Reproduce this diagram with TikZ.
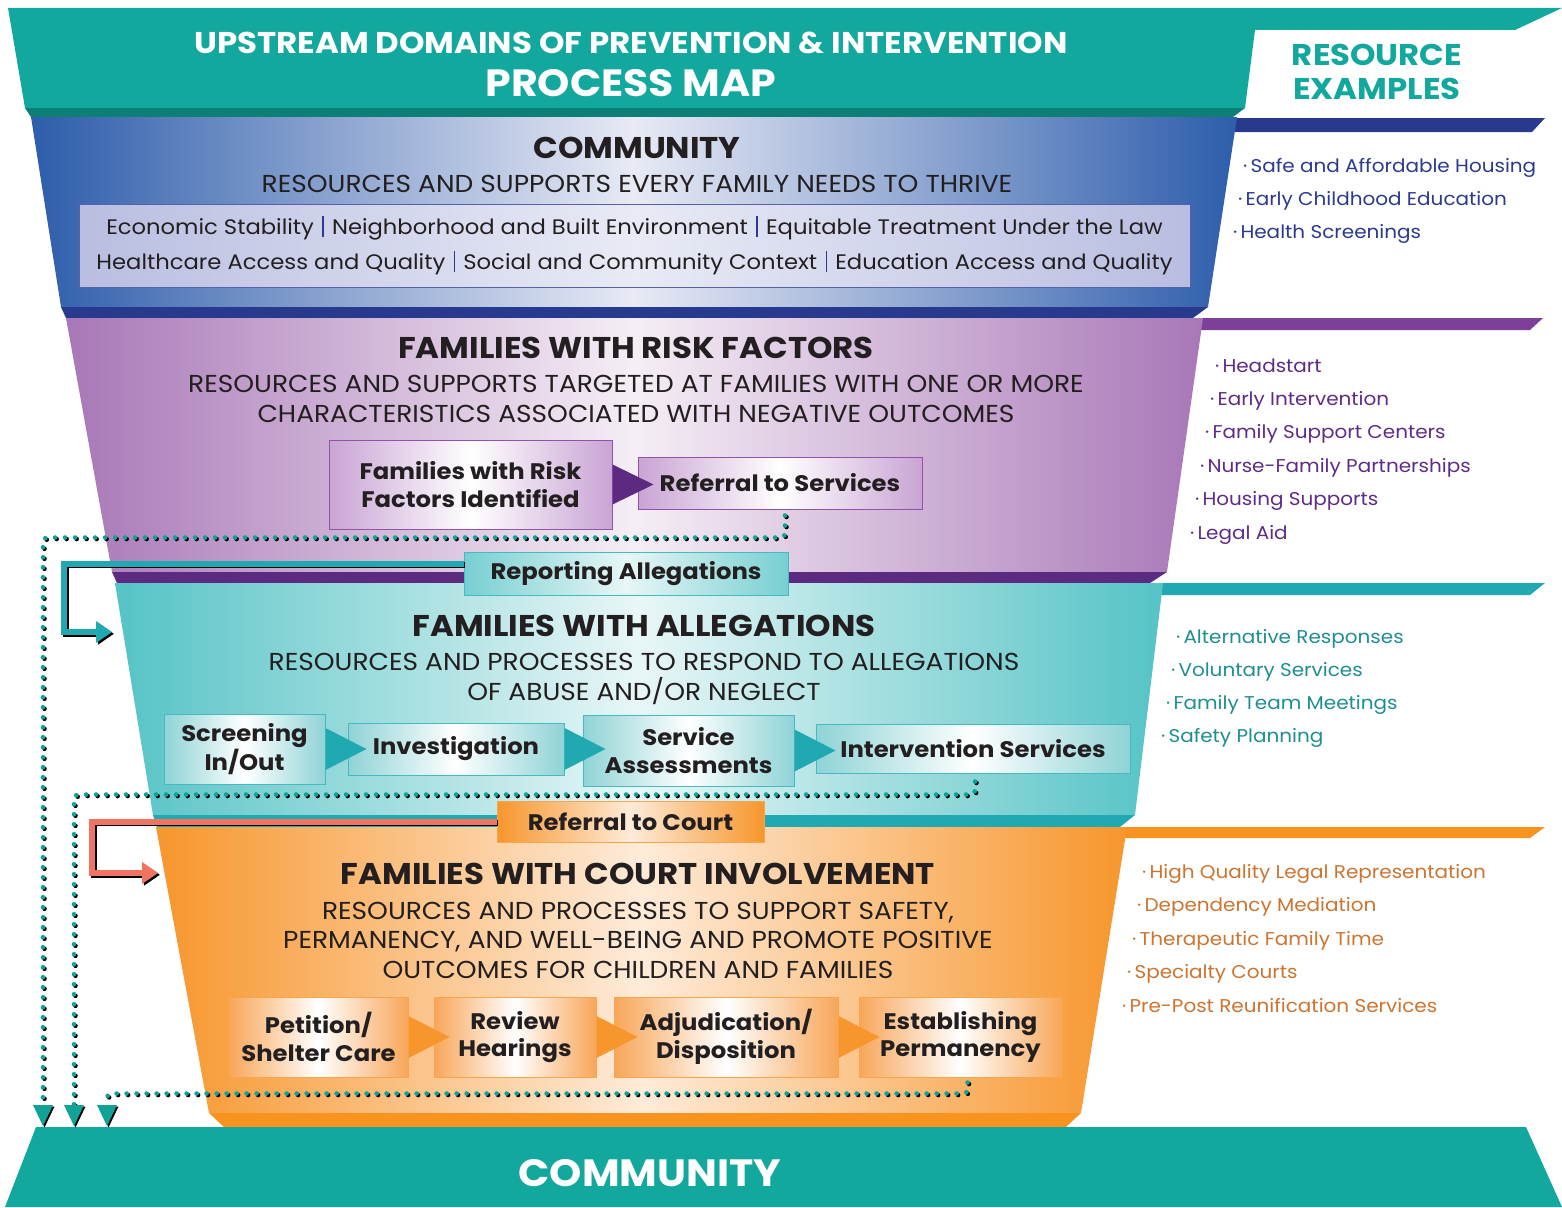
\documentclass[tikz,border=0pt]{standalone}
\usepackage{fontspec}
\setmainfont{Poppins}[FakeStretch=1.08]
\usetikzlibrary{arrows.meta,positioning,calc}

% band colours
\definecolor{ink}{HTML}{231F20}
\definecolor{mapTeal}{HTML}{13A89E}
\definecolor{mapTealDk}{HTML}{0E7F76}
\definecolor{comBlue}{HTML}{2D5DAB}
\definecolor{comBlueLt}{HTML}{E8EAF5}
\definecolor{comBlueDk}{HTML}{283A8E}
\definecolor{riskPurple}{HTML}{A877B7}
\definecolor{riskPurpleLt}{HTML}{F5EEF5}
\definecolor{riskPurpleDk}{HTML}{5C2A80}
\definecolor{riskPurpleBar}{HTML}{7E3F98}
\definecolor{allegTeal}{HTML}{55C3C6}
\definecolor{allegTealLt}{HTML}{E8F6F6}
\definecolor{allegTealDk}{HTML}{21A9B1}
\definecolor{courtOrange}{HTML}{F7962C}
\definecolor{courtOrangeLt}{HTML}{FEEBD9}
\definecolor{courtOrangeDk}{HTML}{F7931E}
% boxes and connectors
\definecolor{boxLav}{HTML}{B9BEE1}
\definecolor{boxLavLn}{HTML}{5961A9}
\definecolor{riskBox}{HTML}{C9A4D4}
\definecolor{riskBoxLn}{HTML}{9450AD}
\definecolor{allegBox}{HTML}{8FD3D6}
\definecolor{allegBoxLn}{HTML}{45BAC0}
\definecolor{courtBox}{HTML}{F8A659}
\definecolor{courtBoxLn}{HTML}{F9A54E}
\definecolor{dotTeal}{HTML}{10A197}
\definecolor{salmon}{HTML}{EF7462}
% resource lists
\definecolor{resBlue}{HTML}{2B3A8C}
\definecolor{resPurple}{HTML}{5E2C86}
\definecolor{resTeal}{HTML}{1E8E91}
\definecolor{resOrange}{HTML}{CC7430}

\newcommand{\divbar}{\hspace{0.4em}{\color{resBlue}\rule[-0.15em]{1.3pt}{1.0em}}\hspace{0.4em}}

\begin{document}
\begin{tikzpicture}[
x=1pt, y=-1pt,
bandtitle/.style = {font=\bfseries\fontsize{30}{30}\selectfont, text=ink, anchor=base},
bandtext/.style = {font=\fontsize{24.5}{29.5}\selectfont, text=ink, anchor=base, align=center},
reslist/.style = {font=\fontsize{18.5}{18.5}\selectfont, anchor=base west, inner sep=0pt},
stage/.style = {font=\bfseries\fontsize{22.5}{27.5}\selectfont, text=ink, align=center, line width=1pt, inner sep=0pt},
riskbox/.style = {stage, draw=riskBoxLn, left color=riskBox, right color=riskBox, middle color=white},
allegbox/.style = {stage, draw=allegBoxLn, left color=allegBox, right color=allegBox, middle color=white},
courtbox/.style = {stage, draw=courtBoxLn, left color=courtBox, right color=courtBox, middle color=white},
dots/.style = {line width=4.6pt, line cap=round, dash pattern=on 0pt off 10pt, rounded corners=4pt,
  -{Triangle[length=21pt, width=20pt, line width=0pt]}},
feed/.style = {line width=6pt, -{Triangle[length=16pt, width=22pt, line width=0pt]}}
]
\useasboundingbox (0,0) rectangle (1562,1207);

% bars running out to the resource lists
\fill[comBlueDk] (1225,118) -- (1545,118) -- (1532,132) -- (1225,132) -- cycle;
\fill[riskPurpleBar] (1195,318) -- (1543,318) -- (1530,330) -- (1195,330) -- cycle;
\fill[allegTealDk] (1155,583) -- (1545,583) -- (1530,595) -- (1155,595) -- cycle;
\fill[courtOrangeDk] (1120,827) -- (1545,827) -- (1530,838) -- (1120,838) -- cycle;

% header
\fill[mapTeal] (8,8) -- (1562,8) -- (1515,30) -- (1255,30) -- (1245,108) -- (25,108) -- cycle;
\fill[mapTealDk] (25,108) -- (1245,108) -- (1233,117) -- (31,117) -- cycle;
\node[font=\bfseries\fontsize{30}{30}\selectfont, text=white, anchor=base] (maptitle) at (631,54)
  {UPSTREAM DOMAINS OF PREVENTION \& INTERVENTION};
\node[font=\bfseries\fontsize{38}{38}\selectfont, text=white, anchor=base] (mapname) at (631,96) {PROCESS MAP};
\node[font=\bfseries\fontsize{30}{33}\selectfont, text=mapTeal, anchor=base, align=center] (reshead) at (1377,99)
  {RESOURCE\\EXAMPLES};

% the four funnel bands
\shade[left color=comBlue, right color=comBlue, middle color=comBlueLt]
  (31,117) -- (1237,117) -- (1208,307) -- (61,307) -- cycle;
\fill[comBlueDk] (61,307) -- (1208,307) -- (1193,318) -- (66,318) -- cycle;
\shade[left color=riskPurple, right color=riskPurple, middle color=riskPurpleLt]
  (66,318) -- (1203,318) -- (1167,572) -- (112,572) -- cycle;
\fill[riskPurpleDk] (112,572) -- (1167,572) -- (1150,583) -- (117,583) -- cycle;
\shade[left color=allegTeal, right color=allegTeal, middle color=allegTealLt]
  (115,583) -- (1163,583) -- (1135,815) -- (153,815) -- cycle;
\fill[allegTealDk] (153,815) -- (1135,815) -- (1120,827) -- (157,827) -- cycle;
\shade[left color=courtOrange, right color=courtOrange, middle color=courtOrangeLt]
  (156,827) -- (1127,827) -- (1081,1113) -- (209,1113) -- cycle;
\fill[courtOrangeDk] (209,1113) -- (1081,1113) -- (1066,1127) -- (224,1127) -- cycle;

% community at the bottom
\fill[mapTeal] (36,1127) -- (1526,1127) -- (1562,1207) -- (5,1207) -- cycle;
\node[font=\bfseries\fontsize{38}{38}\selectfont, text=white, anchor=base] (comout) at (650,1186) {COMMUNITY};

% community band
\node[bandtitle] (comtitle) at (637,158) {COMMUNITY};
\node[bandtext] (comtext) at (637,192) {RESOURCES AND SUPPORTS EVERY FAMILY NEEDS TO THRIVE};
\node[draw=boxLavLn, line width=1pt, left color=boxLav, right color=boxLav, middle color=comBlueLt,
  minimum width=1111pt, minimum height=83pt, inner sep=0pt, align=center,
  font=\fontsize{21}{35}\selectfont, text=ink] (sdoh) at (634.5,245.5)
  {Economic Stability\divbar Neighborhood and Built Environment\divbar Equitable Treatment Under the Law\\
   Healthcare Access and Quality\divbar Social and Community Context\divbar Education Access and Quality};

% risk band
\node[bandtitle] (risktitle) at (636,358) {FAMILIES WITH RISK FACTORS};
\node[bandtext, font=\fontsize{24.5}{30}\selectfont] (risktext) at (636,422)
  {RESOURCES AND SUPPORTS TARGETED AT FAMILIES WITH ONE OR MORE\\
   CHARACTERISTICS ASSOCIATED WITH NEGATIVE OUTCOMES};
\node[riskbox, minimum width=283pt, minimum height=89pt] (riskid) at (470.5,484.5) {Families with Risk\\Factors Identified};
\node[riskbox, minimum width=284pt, minimum height=52pt] (refsrv) at (780,483) {Referral to Services};
\fill[riskPurpleDk] ([yshift=20pt]riskid.east) -- ([xshift=41pt]riskid.east) -- ([yshift=-20pt]riskid.east) -- cycle;

% allegations band
\node[bandtitle] (allegtitle) at (644,636) {FAMILIES WITH ALLEGATIONS};
\node[bandtext] (allegtext) at (644,700)
  {RESOURCES AND PROCESSES TO RESPOND TO ALLEGATIONS\\OF ABUSE AND/OR NEGLECT};
\node[allegbox, minimum width=161pt, minimum height=70pt] (screen) at (244.5,749) {Screening\\In/Out};
\node[allegbox, minimum width=216pt, minimum height=52pt] (invest) at (456,749) {Investigation};
\node[allegbox, minimum width=211pt, minimum height=71pt] (servas) at (688.5,750.5) {Service\\Assessments};
\node[allegbox, minimum width=314pt, minimum height=49pt] (interv) at (973,748.5) {Intervention Services};
\foreach \a in {screen, invest, servas}
  \fill[allegTealDk] ([yshift=21pt]\a.east) -- ([xshift=41pt]\a.east) -- ([yshift=-21pt]\a.east) -- cycle;

% court band
\node[bandtitle] (courttitle) at (638,884) {FAMILIES WITH COURT INVOLVEMENT};
\node[bandtext] (courttext) at (638,978)
  {RESOURCES AND PROCESSES TO SUPPORT SAFETY,\\PERMANENCY, AND WELL-BEING AND PROMOTE POSITIVE\\
   OUTCOMES FOR CHILDREN AND FAMILIES};
\node[courtbox, minimum width=179pt, minimum height=80pt] (petition) at (318.5,1037) {Petition/\\Shelter Care};
\node[courtbox, minimum width=162pt, minimum height=80pt] (review) at (515,1037) {Review\\Hearings};
\node[courtbox, minimum width=224pt, minimum height=80pt] (adjud) at (726,1037) {Adjudication/\\Disposition};
\node[courtbox, minimum width=203pt, minimum height=80pt] (establ) at (960.5,1037) {Establishing\\Permanency};
\foreach \a in {petition, review, adjud}
  \fill[courtOrange] ([yshift=21pt]\a.east) -- ([xshift=41pt]\a.east) -- ([yshift=-21pt]\a.east) -- cycle;

% hand-offs between bands
\node[allegbox, left color=allegTeal!80, right color=allegTeal!80, middle color=allegTealLt,
  minimum width=324pt, minimum height=43pt] (report) at (626,573.5) {Reporting Allegations};
\node[stage, draw=courtBoxLn, left color=courtOrange, right color=courtOrange, middle color=courtOrangeLt,
  minimum width=267pt, minimum height=41pt] (refcourt) at (630.5,821.5) {Referral to Court};
\coordinate (allegin) at (112,632);
\coordinate (courtin) at (158,873);
\foreach \col/\dx in {black/1.8pt, allegTealDk/0pt}
  \draw[feed, draw=\col, transform canvas={shift={(\dx,-\dx)}}]
    ([yshift=10pt]report.west) -| ([xshift=-48pt]allegin) -- (allegin);
\foreach \col/\dx in {black/1.8pt, salmon/0pt}
  \draw[feed, draw=\col, transform canvas={shift={(\dx,-\dx)}}]
    (refcourt.west) -| ([xshift=-66pt]courtin) -- (courtin);

% exits back to the community
\coordinate (drop1) at (43,1126);
\coordinate (drop2) at (74,1126);
\coordinate (drop3) at (107,1126);
\foreach \col/\dx in {black/1.5pt, dotTeal/0pt} {
  \begin{scope}[draw=\col, transform canvas={shift={(\dx,-\dx)}}]
    \draw[dots] ([xshift=5pt,yshift=-6pt]refsrv.south) -- ++(0,22) -| (drop1);
    \draw[dots] ([xshift=2pt,yshift=-8pt]interv.south) -- ++(0,13) -| (drop2);
    \draw[dots] ([xshift=7pt,yshift=-5pt]establ.south) -- ++(0,11) -| (drop3);
  \end{scope}
}

% resource examples
\foreach \entry [count=\i] in {Safe and Affordable Housing, Early Childhood Education, Health Screenings}
  \node[reslist, text=resBlue] (resblue\i) at ({1248-5*\i},{139+33*\i}) {·\,\entry};
\foreach \entry [count=\i] in {Headstart, Early Intervention, Family Support Centers,
    Nurse-Family Partnerships, Housing Supports, Legal Aid}
  \node[reslist, text=resPurple] (respurple\i) at ({1220-5*\i},{338.6+33.4*\i}) {·\,\entry};
\foreach \entry [count=\i] in {Alternative Responses, Voluntary Services, Family Team Meetings, Safety Planning}
  \node[reslist, text=resTeal] (resteal\i) at ({1181-5*\i},{609.7+33.3*\i}) {·\,\entry};
\foreach \entry [count=\i] in {High Quality Legal Representation, Dependency Mediation, Therapeutic Family Time,
    Specialty Courts, Pre-Post Reunification Services}
  \node[reslist, text=resOrange] (resorange\i) at ({1147-5*\i},{844.5+33.5*\i}) {·\,\entry};

\end{tikzpicture}
\end{document}
